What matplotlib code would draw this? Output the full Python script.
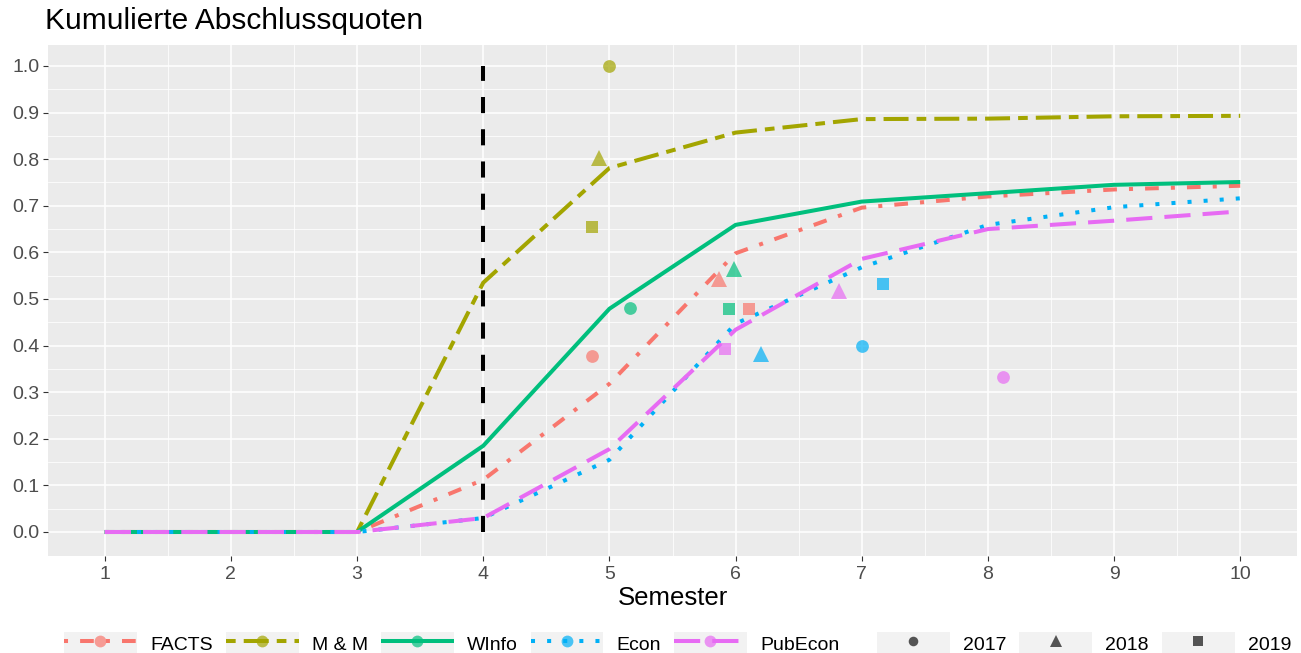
import matplotlib
matplotlib.use("Agg")
import matplotlib.pyplot as plt
from matplotlib.lines import Line2D
from matplotlib.patches import Rectangle
from matplotlib.ticker import FixedLocator

plt.rcParams['font.family'] = ['Liberation Sans', 'DejaVu Sans']

# ---------------- data ----------------
semesters = [1, 2, 3, 4, 5, 6, 7, 8, 9, 10]
series_names = ["FACTS", "M & M", "WInfo", "Econ", "PubEcon"]
facts   = [0, 0, 0, 0.112, 0.318, 0.598, 0.696, 0.720, 0.735, 0.743]
mm      = [0, 0, 0, 0.535, 0.781, 0.857, 0.886, 0.887, 0.892, 0.893]
winfo   = [0, 0, 0, 0.185, 0.479, 0.659, 0.709, 0.727, 0.745, 0.751]
econ    = [0, 0, 0, 0.030, 0.155, 0.447, 0.568, 0.659, 0.697, 0.716]
pubecon = [0, 0, 0, 0.030, 0.178, 0.434, 0.586, 0.650, 0.668, 0.688]

years = ["2017", "2018", "2019"]
# cohort points (x = observed semester incl. jitter, y = quota)
pt_series = ["M & M", "M & M", "M & M", "FACTS", "FACTS", "FACTS",
             "WInfo", "WInfo", "WInfo", "Econ", "Econ", "Econ",
             "PubEcon", "PubEcon", "PubEcon"]
pt_year   = ["2017", "2018", "2019", "2017", "2018", "2019",
             "2017", "2018", "2019", "2017", "2018", "2019",
             "2017", "2018", "2019"]
pt_x      = [5.00, 4.92, 4.86, 4.86, 5.87, 6.105,
             5.16, 5.99, 5.95, 7.00, 6.20, 7.165,
             8.12, 6.82, 5.92]
pt_y      = [1.000, 0.802, 0.655, 0.378, 0.542, 0.479,
             0.480, 0.565, 0.479, 0.400, 0.382, 0.533,
             0.333, 0.517, 0.392]

cutoff_semester = 4
cutoff_range = [0.0, 1.0]

title = "Kumulierte Abschlussquoten"
xlabel = "Semester"
x_ticks = [1, 2, 3, 4, 5, 6, 7, 8, 9, 10]
y_ticks = [0.0, 0.1, 0.2, 0.3, 0.4, 0.5, 0.6, 0.7, 0.8, 0.9, 1.0]

# ---------------- styles ----------------
colors = {"FACTS": "#F8766D", "M & M": "#A3A500", "WInfo": "#00BF7D",
          "Econ": "#00B0F6", "PubEcon": "#E76BF3"}
dashes = {"FACTS": (1, 3, 3.4, 3), "M & M": (2.4, 2, 6.2, 2),
          "WInfo": None, "Econ": (1, 3), "PubEcon": (6.5, 3)}
markers = {"2017": "o", "2018": "^", "2019": "s"}
msizes = {"2017": 9.2, "2018": 11, "2019": 9}
values = {"FACTS": facts, "M & M": mm, "WInfo": winfo,
          "Econ": econ, "PubEcon": pubecon}

W, H = 1301, 653
fig = plt.figure(figsize=(W / 100, H / 100), dpi=100)
ax = fig.add_axes([48 / W, 1 - 556 / H, (1297 - 48) / W, (556 - 45) / H])
ax.set_facecolor("#EBEBEB")
for s in ax.spines.values():
    s.set_visible(False)

ax.set_xlim(0.55, 10.45)
ax.set_ylim(-0.0515, 1.045)
ax.xaxis.set_major_locator(FixedLocator(x_ticks))
ax.xaxis.set_minor_locator(FixedLocator([v + 0.5 for v in x_ticks[:-1]]))
ax.yaxis.set_major_locator(FixedLocator(y_ticks))
ax.yaxis.set_minor_locator(FixedLocator([v + 0.05 for v in y_ticks[:-1]]))
ax.set_xticklabels([str(v) for v in x_ticks])
ax.set_yticklabels([f"{v:.1f}" for v in y_ticks])
ax.grid(which="major", color="white", linewidth=1.1)
ax.grid(which="minor", color="white", linewidth=0.55)
ax.set_axisbelow(True)
ax.tick_params(which="major", length=3.5, width=0.8, color="#333333",
               labelsize=14, labelcolor="#4D4D4D")
ax.tick_params(axis="x", pad=3.5)
ax.tick_params(axis="y", pad=2.5)
ax.tick_params(which="minor", length=0)

lw = 2.9
for name in series_names:
    ln, = ax.plot(semesters, values[name], color=colors[name], lw=lw,
                  solid_capstyle="butt", dash_capstyle="butt", zorder=3)
    if dashes[name] is not None:
        ln.set_dashes(dashes[name])

ax.plot([cutoff_semester, cutoff_semester], cutoff_range, color="black",
        lw=2.9, dashes=(4, 4), dash_capstyle="butt", zorder=4)

for sname, yr, x, y in zip(pt_series, pt_year, pt_x, pt_y):
    ax.plot([x], [y], linestyle="none", marker=markers[yr], ms=msizes[yr],
            color=colors[sname], alpha=0.7, markeredgewidth=0, zorder=5)

fig.text(45 / W, 1 - 21 / H, title, fontsize=21.5, ha="left", va="center",
         color="black")
fig.text((48 + 1297) / 2 / W, 1 - 598 / H, xlabel, fontsize=18.5,
         ha="center", va="center", color="black")

# ---------------- legends ----------------
bg_kw = dict(facecolor="#F2F2F2", edgecolor="none")
h1 = []
for name in series_names:
    l = Line2D([], [], color=colors[name], lw=lw, dash_capstyle="butt",
               solid_capstyle="butt")
    if dashes[name] is not None:
        l.set_dashes(dashes[name])
    m = Line2D([], [], linestyle="none", marker="o", ms=8.5,
               color=colors[name], alpha=0.7, markeredgewidth=0)
    h1.append((Rectangle((0, 0), 1, 1, **bg_kw), l, m))
h2 = []
for yr in years:
    m = Line2D([], [], linestyle="none", marker=markers[yr],
               ms=msizes[yr] * 0.75, color="black", alpha=0.65,
               markeredgewidth=0)
    h2.append((Rectangle((0, 0), 1, 1, **bg_kw), m))

leg_kw = dict(frameon=False, fontsize=14, handlelength=3.75,
              handleheight=1.3, handletextpad=0.67, columnspacing=0.67,
              borderpad=0, borderaxespad=0, loc="center left")
leg1 = fig.legend(h1, series_names, ncol=5,
                  bbox_to_anchor=(64 / W, 1 - 643 / H), **leg_kw)
leg2 = fig.legend(h2, years, ncol=3,
                  bbox_to_anchor=(877 / W, 1 - 643 / H), **leg_kw)

fig.savefig("out.png", dpi=100)
